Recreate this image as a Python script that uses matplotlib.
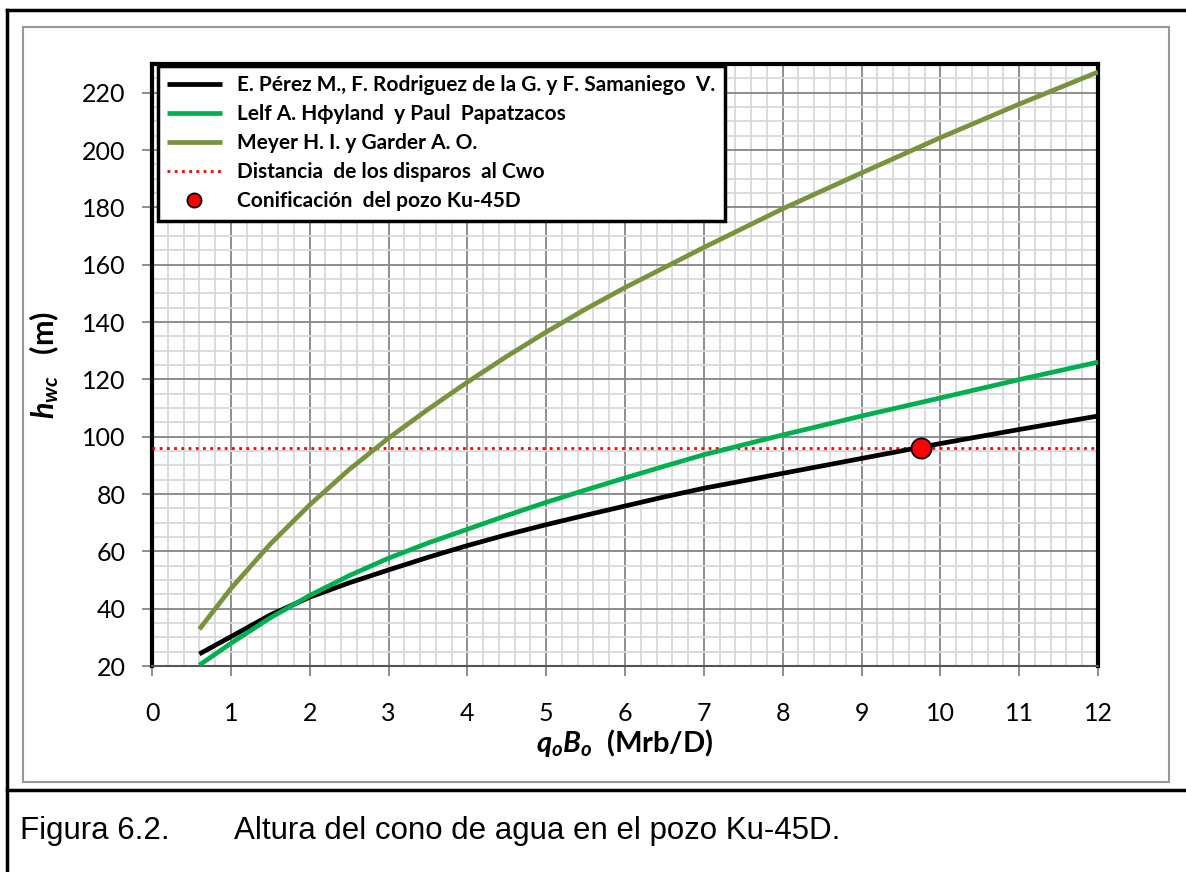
import matplotlib.pyplot as plt
from matplotlib.patches import Rectangle
from matplotlib.lines import Line2D
import numpy as np

# data
x_vals = [0.6, 1, 1.5, 2, 2.5, 3, 3.5, 4, 4.5, 5, 5.5, 6, 6.5, 7, 8, 9, 10, 11, 12]
perez = [24.2, 30.2, 37.8, 44, 49, 53.5, 57.9, 62, 65.8, 69.3, 72.6, 75.8, 79, 82,
         87.2, 92.4, 97.6, 102.5, 107.2]
hoyland = [20.3, 27.9, 36.8, 44.6, 51.5, 57.6, 62.9, 67.7, 72.5, 77.1, 81.4, 85.6, 89.7, 93.7,
           100.6, 107.2, 113.5, 119.9, 126]
meyer = [32.8, 47, 62.5, 76.2, 88.5, 99.5, 109.5, 119, 128, 136.5, 144.5, 152, 159, 166,
         179.5, 192, 204.3, 216, 227.2]
h_cwo = 96
ku45d_x = 9.75
ku45d_y = 96

labels = ['E. Pérez M., F. Rodriguez de la G. y F. Samaniego  V.',
          'Lelf A. H\u03d5yland  y Paul  Papatzacos',
          'Meyer H. I. y Garder A. O.',
          'Distancia  de los disparos  al Cwo',
          'Conificación  del pozo Ku-45D']

plt.rcParams['font.family'] = ['Lato', 'DejaVu Sans']
plt.rcParams['mathtext.fontset'] = 'custom'
plt.rcParams['mathtext.it'] = 'Lato:italic:bold'
plt.rcParams['mathtext.rm'] = 'Lato:bold'
plt.rcParams['mathtext.bf'] = 'Lato:bold'

W, H = 1186, 872
fig = plt.figure(figsize=(W / 100, H / 100), dpi=100)

# frames around chart and caption
fig.add_artist(Line2D([7 / W, 7 / W], [0, 1 - 10 / H], color='black', lw=2.5, transform=fig.transFigure))
fig.add_artist(Line2D([7 / W, 1], [1 - 10 / H, 1 - 10 / H], color='black', lw=2.5, transform=fig.transFigure))
fig.add_artist(Line2D([7 / W, 1], [1 - 790 / H, 1 - 790 / H], color='black', lw=2.5, transform=fig.transFigure))
fig.add_artist(Rectangle((23 / W, 1 - 782 / H), (1169 - 23) / W, (782 - 27) / H, fill=False,
                         edgecolor='#999999', lw=1.5, transform=fig.transFigure))

ax = fig.add_axes([152 / W, 1 - 666 / H, (1098 - 152) / W, (666 - 64) / H])

ax.plot(x_vals, perez, color='black', lw=3.4, label=labels[0], solid_capstyle='butt', zorder=4)
ax.plot(x_vals, hoyland, color='#00B050', lw=3.4, label=labels[1], solid_capstyle='butt', zorder=4)
ax.plot(x_vals, meyer, color='#77933C', lw=3.4, label=labels[2], solid_capstyle='butt', zorder=4)
ax.axhline(h_cwo, color='#FF0000', lw=2, ls=(0, (1, 1.6)), label=labels[3], zorder=3)
ax.plot([ku45d_x], [ku45d_y], 'o', color='#FF0000', mec='black', mew=1.3, ms=14.5,
        label=labels[4], zorder=5, linestyle='none')

ax.set_xlim(0, 12)
ax.set_ylim(20, 230)
ax.set_xticks(np.arange(0, 13, 1))
ax.set_yticks(np.arange(20, 221, 20))
ax.set_xticks(np.arange(0, 12.01, 0.2), minor=True)
ax.set_yticks(np.arange(20, 230.1, 5), minor=True)
ax.grid(which='minor', color='#d9d9d9', lw=1.3, zorder=0)
ax.grid(which='major', color='#868686', lw=1.3, zorder=1)
ax.set_axisbelow(True)
ax.tick_params(which='minor', length=0)
ax.tick_params(which='major', direction='out', length=7, width=1.3, color='#868686',
               labelsize=18)
ax.tick_params(axis='y', which='major', pad=12)
ax.tick_params(axis='x', which='major', pad=19)
for s in ax.spines.values():
    s.set_linewidth(3)
    s.set_color('black')
ax.spines['bottom'].set_linewidth(1.5)
ax.spines['bottom'].set_color('#555555')

ax.set_xlabel(r'$q_oB_o$  (Mrb/D)', fontsize=21, fontweight='bold', labelpad=1)
ax.set_ylabel(r'$h_{wc}$   (m)', fontsize=22, fontweight='bold', labelpad=15)

leg = ax.legend(loc='upper left', bbox_to_anchor=(158 / W, 1 - 66 / H), bbox_transform=fig.transFigure,
                borderaxespad=0, fancybox=False, framealpha=1, edgecolor='black', borderpad=0.45,
                handlelength=2.6, handletextpad=0.75, labelspacing=0.43, markerscale=0.7,
                prop={'family': ['Lato', 'DejaVu Sans'], 'weight': 'bold', 'size': 15})
leg.get_frame().set_linewidth(2.5)
leg.set_zorder(10)

fig.text(20 / W, 1 - 831 / H, 'Figura 6.2.', family='Liberation Sans', fontsize=22.5,
         va='center', ha='left')
fig.text(234 / W, 1 - 831 / H, 'Altura del cono de agua en el pozo Ku-45D.', family='Liberation Sans',
         fontsize=22.5, va='center', ha='left')

fig.savefig('out.png', dpi=100)
